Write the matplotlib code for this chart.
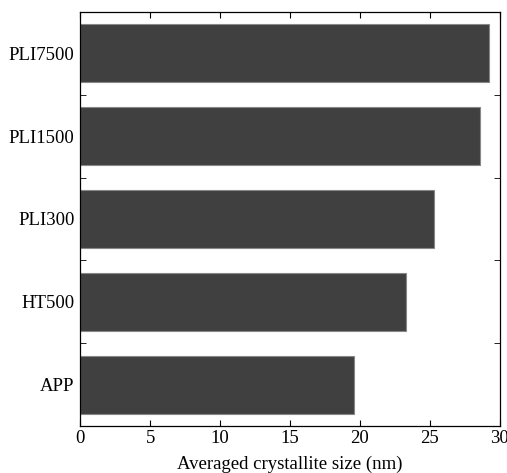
import matplotlib
matplotlib.use('Agg')
import matplotlib.pyplot as plt
import numpy as np

samples = ['APP', 'HT500', 'PLI300', 'PLI1500', 'PLI7500']
sizes = [19.6, 23.3, 25.3, 28.6, 29.2]
xticks = [0, 5, 10, 15, 20, 25, 30]

plt.rcParams['font.family'] = ['Liberation Serif', 'DejaVu Serif']

fig = plt.figure(figsize=(5.07, 4.73), dpi=100)
ax = fig.add_axes([0.158, 0.099, 0.828, 0.876])

pos = np.arange(len(samples))
ax.barh(pos, sizes, height=0.7, color='#404040', edgecolor='#888888', linewidth=0.8)

ax.set_xlim(0, 30)
ax.set_ylim(-0.5, len(samples) - 0.5)
ax.set_xticks(xticks)
ax.set_xticklabels([str(t) for t in xticks], fontsize=13.5)
ax.set_yticks(pos)
ax.set_yticklabels(samples, fontsize=13.5)
ax.tick_params(axis='y', which='major', length=0, pad=4)
ax.set_yticks(pos[:-1] + 0.5, minor=True)
ax.tick_params(axis='y', which='minor', direction='in', length=4, right=True)
ax.tick_params(axis='x', direction='in', length=4, top=True, pad=3)
ax.set_xlabel('Averaged crystallite size (nm)', fontsize=13.5, labelpad=6)

for s in ax.spines.values():
    s.set_linewidth(0.9)

fig.savefig('out.png', dpi=100)
